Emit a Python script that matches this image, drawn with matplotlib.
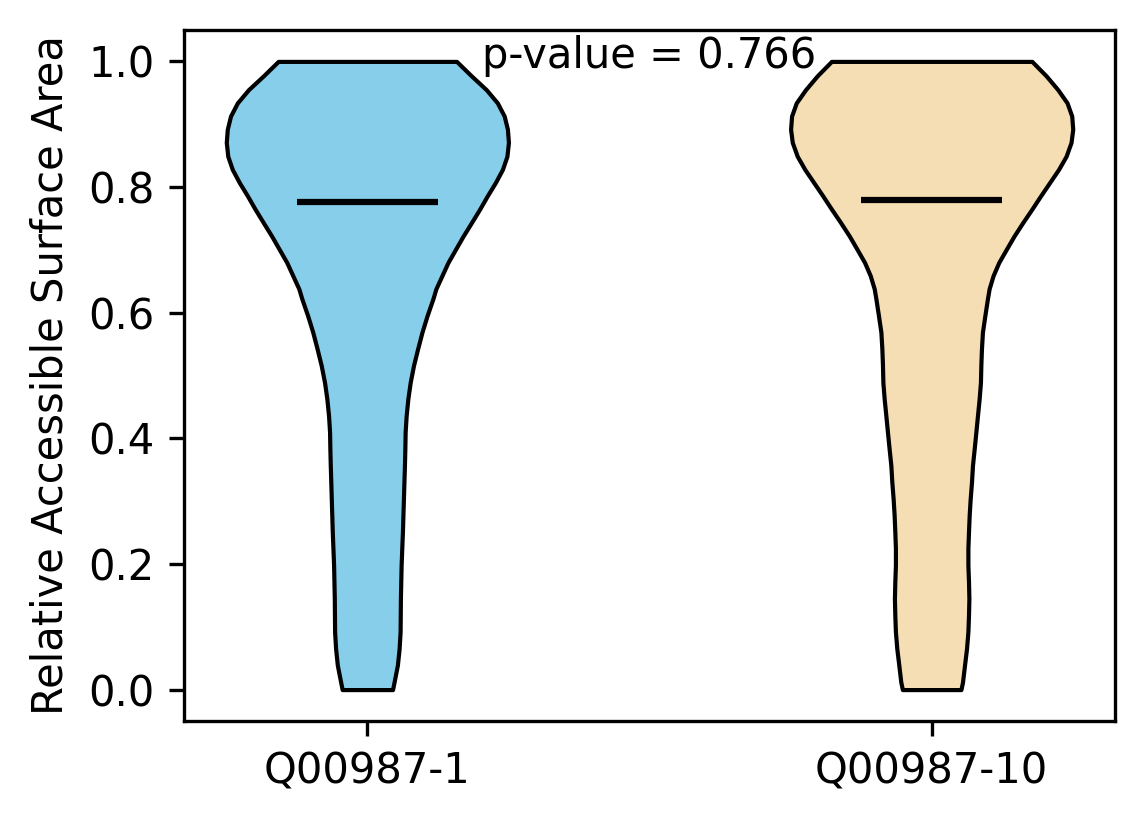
import numpy as np
import matplotlib
matplotlib.use('Agg')
import matplotlib.pyplot as plt

# Isoform labels and summary values
isoforms = ['Q00987-1', 'Q00987-10']
means = [0.776, 0.779]
p_value = 0.766

# Density profile of each violin (relative half-width at each RSA level)
rsa_grid_1 = [0.0, 0.012, 0.039, 0.065, 0.092, 0.145, 0.198, 0.251, 0.304, 0.357,
              0.383, 0.410, 0.436, 0.463, 0.489, 0.516, 0.542, 0.569, 0.595, 0.622,
              0.638, 0.659, 0.680, 0.701, 0.722, 0.744, 0.765, 0.786, 0.807, 0.828,
              0.849, 0.871, 0.892, 0.913, 0.934, 0.955, 0.977, 1.0]
density_1 = [25, 26.5, 29.8, 31.5, 32.5, 32.8, 33.5, 34.8, 35.8, 36.8,
             37.2, 37.5, 38.5, 40.2, 42.5, 45.8, 49.8, 54.2, 59.2, 65,
             68, 74, 80, 87.5, 95, 103.5, 111.5, 119, 127, 134,
             138.5, 140, 139, 135.8, 129, 118, 103.2, 88.5]

rsa_grid_2 = [0.0, 0.012, 0.039, 0.065, 0.092, 0.118, 0.145, 0.172, 0.198, 0.225,
              0.251, 0.278, 0.304, 0.330, 0.357, 0.383, 0.410, 0.436, 0.463, 0.489,
              0.516, 0.542, 0.569, 0.595, 0.622, 0.638, 0.659, 0.680, 0.701, 0.722,
              0.744, 0.765, 0.786, 0.807, 0.828, 0.849, 0.871, 0.892, 0.913, 0.934,
              0.955, 0.977, 1.0]
density_2 = [29.4, 31, 33, 35, 36.4, 37, 37.4, 37, 36.4, 36.4,
             37, 37.7, 38.7, 40, 41, 42.7, 44.4, 46, 47.7, 49,
             49.4, 50, 51, 53.4, 56, 57.7, 61.7, 67.4, 75, 82.7,
             91.7, 100.7, 109.4, 118.4, 127.4, 135, 140, 141.7, 140.7, 136,
             126.7, 115, 100.7]

colors = ['skyblue', 'wheat']

grids = [rsa_grid_1, rsa_grid_2]
dens = [density_1, density_2]
vpstats = []
for g, d, m in zip(grids, dens, means):
    vpstats.append({'coords': np.array(g), 'vals': np.array(d, dtype=float),
                    'mean': m, 'median': m, 'min': min(g), 'max': max(g),
                    'quantiles': []})

fig = plt.figure(figsize=(1144 / 300, 824 / 300), dpi=300)
ax = fig.add_subplot(111)
fig.subplots_adjust(left=0.1608, right=0.9747, top=0.9636, bottom=0.125)

parts = ax.violin(vpstats, positions=[1, 2], widths=0.5,
                  showmeans=True, showextrema=False, showmedians=False)
for body, c in zip(parts['bodies'], colors):
    body.set_facecolor(c)
    body.set_edgecolor('black')
    body.set_linewidth(1)
    body.set_alpha(1)
parts['cmeans'].set_color('black')
parts['cmeans'].set_linewidth(1.5)

ax.set_xticks([1, 2])
ax.set_xticklabels(isoforms)
ax.set_ylabel('Relative Accessible Surface Area')
ax.text(1.5, 0.99, f'p-value = {p_value}', ha='center', va='baseline')

plt.savefig('out.png', dpi=300)
